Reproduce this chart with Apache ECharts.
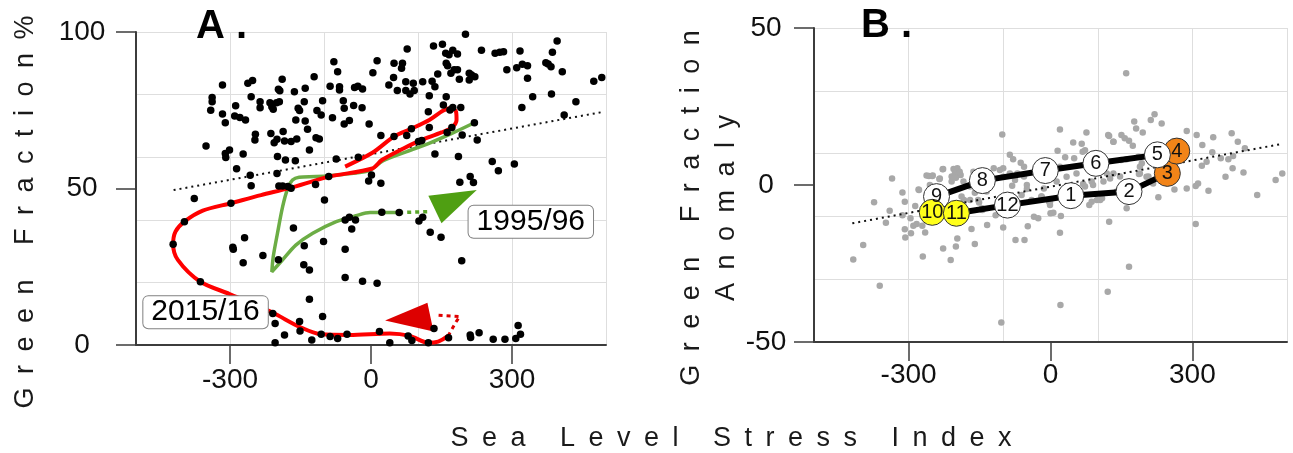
<!DOCTYPE html>
<html lang="en">
<head>
  <meta charset="utf-8">
  <script type="text/javascript" src="https://cdn.jsdelivr.net/npm/echarts@6.0.0/dist/echarts.min.js"></script>
</head>
<body style="margin: 0; background: #fff">
  <div id="main" style="width: 1293px; height: 453px"></div>

  <script type="text/javascript">
    // ---- panel A: monthly points, sea level stress index vs green fraction %
    var aPoints = [
      [-79,90.5],[-71,87.3],[4,87],[-316,83.1],[-262,83.6],[-252,84.5],[-189,84.9],[-197,81.7],[-194,81.2],[-163,80.9],
      [-140,82],[-121,85.7],[-87,82.7],[-67,82.5],[-67,81.5],[-35,82.3],[-28,82.7],[-18,81.8],
      [-338,79.1],[-338,77.7],[-341,75],[-288,76.4],[-255,79.3],[-236,77.7],[-236,75.8],[-215,77.4],[-211,76.1],[-208,75.3],
      [-201,77.4],[-195,77.7],[-155,75.6],[-152,74.9],[-142,77.7],[-103,78],[-115,74.9],[-106,73.5],[-59,78],[-57,75.6],
      [-37,76.5],[-19,75.8],[-316,73.8],[-310,71],[-290,73.2],[-279,72.7],[-267,71.9],[-160,71.9],[-140,71.6],[-82,72.6],
      [-57,70.6],[-46,71.7],[-4,70.6],[-246,67.3],[-247,65.5],[-213,67.6],[-206,64.6],[-200,65.7],[-187,68.2],[-184,65.2],
      [-170,65],[-158,65.8],[-135,68.9],[-117,66.2],[-110,65.8],[-131,62.3],[-351,63.6],[-310,61.2],[-301,62.3],[-309,59.9],
      [-272,61],[-286,56.3],[-257,54.2],[-255,50.9],[-199,60.2],[-182,59.1],[-161,58.9],[-200,54.8],[-196,50.8],[-188,50.8],
      [-177,50.6],[-170,50.1],[-118,51.3],[-90,53.8],[-74,59.4],[-27,60],[-5,52.4],[-99,46.3],[-376,46.8],[-298,45.3],
      [-397,39.4],[-421,32.2],[-363,20.2],[-294,31.2],[-293,30.6],[-269,34.3],[-272,26.3],[-230,28.6],[-197,27.2],[-165,37.4],
      [-143,25.6],[-131,24],[-142,31.7],[-101,33.1],[-55,30.6],[-55,39.9],[-46,40.8],[-33,39.9],[-41,37.1],[-55,21.6],
      [-18,20.4],[-131,14.6],[-103,9.1],[-209,10.1],[-204,6.9],[-152,7.5],[-151,4.5],[-184,3.2],[-204,0.7],[-126,1.6],
      [-106,3.4],[-87,2.7],[-71,2.1],[-51,3.4],
      [201,99.3],[133,95.5],[152,96.1],[174,94.2],[159,93.2],[166,92.7],[184,93],[77,94.6],[13,90.8],[49,90],
      [67,90],[65,88.4],[48,85.5],[38,83.1],[56,81.3],[74,84.1],[74,81.3],[83,80.2],[90,83.6],[92,81.3],
      [110,84.1],[130,84.3],[136,82.5],[142,86.6],[124,79.6],[160,90],[163,89.2],[170,86.8],[177,87.9],[184,87.9],
      [188,84.9],[209,86.8],[214,86.3],[209,84.7],[221,85.7],[235,94.2],[264,93.2],[274,93.5],[282,93.7],[289,87.9],
      [317,93.9],[310,88.6],[322,89.7],[333,89.2],[333,85.2],[372,90.2],[377,89.8],[386,93.5],[383,88.9],[396,97.1],
      [407,87.3],[321,75.9],[344,79.3],[384,80.2],[411,73.5],[436,77.7],[474,84.3],[491,85.5],[154,76.7],[160,79.3],
      [174,75.9],[168,75.1],[191,75.9],[122,74.5],[124,69.5],[86,69.1],[49,66.6],[21,66.9],[76,66.9],[101,65],
      [108,65.3],[136,61],[162,67.9],[172,69.5],[194,67.1],[220,71],[226,65.5],[186,60.2],[258,58.6],[271,55.7],
      [305,57.8],[1,54.3],[21,51.7],[189,52],[211,53.8],[218,51.9],[23,42.4],[60,42.3],[102,39.6],[110,40.8],
      [126,36],[149,34.4],[193,26.9],[13,19.7],[18,4.3],[40,0.7],[79,2.9],[87,1.4],[122,0.7],[134,5.3],
      [165,2.3],[211,3.2],[212,2.4],[230,3.9],[260,1.8],[285,1.8],[308,2.1],[313,6.2],[318,3.4]
    ];
    var aTrend = [[-420, 49.5], [495, 74.5]];

    // 2015/16 trajectory
    var redPath = [
      [-55,57],[3,61.4],[49,66.6],[86,69.1],[124,71.9],[154,74.9],[172,75.6],[181,74.5],[182,71.9],[172,69.5],
      [150,67.9],[104,65.3],[69,62.8],[23,59.1],[3,56.4],[-89,53.8],[-174,50.1],[-234,47.9],[-298,45.3],[-358,42.9],
      [-397,39.4],[-416,36.2],[-421,32.2],[-411,27.2],[-363,20.2],[-301,16.3],[-209,10.3],[-152,5.8],[-106,3.4],[-46,3.2],
      [40,3.7],[83,2.9],[122,0.7],[143,1.1],[164,2.9]
    ];
    var redTail = [[164,2.9],[181,7.4],[189,9.1],[136,9.6]];
    var redArrow = [[30,7.8],[120,13.5],[133,4.3]];
    var redLabel = [[-352, 10.5, '2015/16']];

    // 1995/96 trajectory
    var greenPath = [
      [220,71],[172,67.6],[126,64.6],[76,61.8],[26,58.9],[-4,55.7],[-60,54.5],[-117,53.8],[-153,53.6],[-167,52.7],
      [-177,50.1],[-188,44.2],[-199,35.7],[-208,28.2],[-211,23.4],[-188,27.2],[-160,31.9],[-124,35.7],[-74,39.4],[-32,41.3],
      [-2,42.3],[60,42.3]
    ];
    var greenTail = [[60,42.3],[122,42.6]];
    var greenArrow = [[122,47.7],[225,49.5],[150,38.9]];
    var greenLabel = [[340, 39.4, '1995/96']];

    // ---- panel B: anomalies
    var bPoints = [
      [-102,16.1],[-86,9.6],[-79,8.2],[-63,7.1],[-56,5.8],[-227,5.1],[-197,5.3],[-192,4.2],[-190,3.2],[-257,2.9],
      [-250,2.9],[-234,2.1],[-209,2.7],[-335,2.1],[-313,-2.4],[-278,-1.6],[-255,0],[-163,4.2],[-120,5.3],[-100,5.3],
      [-70,3.7],[-56,2.7],[-81,-0.2],[-50,-1.3],[-61,-3.2],[-14,-1.1],[-19,-3.7],[-3,-5.3],[-373,-5.5],[-308,-5.3],
      [-340,-8.2],[-313,-9.6],[-348,-12],[-296,-10.6],[-290,-13],[-283,-12.4],[-308,-14.1],[-307,-16.7],[-295,-15.4],[-271,-13],
      [-265,-15.1],[-197,-17],[-200,-19.6],[-227,-20.2],[-160,-18.8],[-167,-14],[-134,-12.7],[-100,-13.5],[-74,-17.5],[-55,-17.5],
      [-48,-13.1],[-116,-9.6],[-144,-8],[-151,-5.6],[-183,-4.8],[-35,-10.1],[-26,-10.6],[0,-9],[-396,-19.1],[-417,-23.7],
      [-270,-22.8],[-211,-23.9],[-361,-32.1],[-104,-43.8],[-235,1.9],[-205,5.1],[-202,3.7],[-193,3.9],[-200,2.3],[-209,1.1],
      [-184,1.1],[-170,-0.5],[-160,-2.5],[-188,-3.7],[-170,-4.8],[-153,-4.8],[-135,-2.1],[-145,-7.4],[-265,-9.6],[-286,-6.7],
      [-262,3],[-249,3],[-228,5],[-279,-1.4],
      [160,35.6],[220,22.5],[212,20.7],[235,19.6],[177,20.2],[181,18],[195,16.7],[20,17.7],[76,16.7],[124,15.6],
      [133,13.8],[150,15.9],[157,14.9],[166,14.1],[174,12.5],[48,13.5],[66,13.1],[15,10.9],[73,11.1],[105,9],
      [50,8.5],[31,8.8],[149,8],[161,8.2],[193,6.9],[186,9],[288,17.2],[309,15.9],[344,15.2],[383,16.5],
      [396,13.8],[321,12.7],[342,10.4],[330,7.4],[320,6.1],[360,8.5],[376,8.2],[386,9.2],[385,5.3],[408,4],
      [370,2.6],[312,0.5],[307,-0.3],[288,-1.1],[262,-1.4],[334,-1.8],[437,-3.2],[476,1.6],[490,3.7],[307,-12.4],
      [124,-11.7],[161,-7.4],[166,-26],[121,-34],[21,-38.2],[20,-15.2],[22,-9.9],[6,-8.8],[-1,-6.4],[87,-5.3],
      [82,-6.4],[98,-4.8],[109,-4.2],[69,0.3],[90,0],[112,1.1],[126,2.1],[147,2.7],[187,3.5],[207,2.7],
      [228,-3.9],[217,0.5],[189,5.8],[411,11.7],[68,10.6],[122,15.9],[133,13.8],
      [-107,4.8],[-100,2.6],[-86,3.7],[-75,1.6],[-50,0],[-40,-4.8],[-19,-3.7],[-1,-5.3],[13,1.1],[20,5.8],
      [34,2.6],[55,3.7],[73,-0.5],[87,1.1],[105,-4.8],[119,3.7],[133,3.7],[140,-2.1],[175,-2.6],[189,3.7],[203,2.6]
    ];
    var bTrend = [[-419, -12.2], [490, 13.1]];

    var months = ['1','2','3','4','5','6','7','8','9','10','11','12'];
    var monthX = [43, 166, 247, 267, 226, 96, -11, -144, -241, -250, -199, -91];
    var monthY = [-3.4, -2.1, 3.7, 10.8, 9.6, 6.9, 4.6, 1.4, -3.7, -8.7, -9.0, -6.4];

    var xTicks = [-300, 0, 300];

    // ---------------------------------------------------------------
    var font = 'Liberation Sans, Arial, Helvetica, sans-serif';
    var sp = '\u2002';
    function spaced(s) {
      return s.split(' ').map(function (w) { return w.split('').join(sp); }).join(sp + ' ' + sp);
    }

    var warm = ['3', '4'], cool = ['10', '11'];
    var monthData = months.map(function (m, i) {
      var c = '#ffffff';
      if (warm.indexOf(m) >= 0) c = '#f28418';
      if (cool.indexOf(m) >= 0) c = '#ffff1a';
      return {value: [monthX[i], monthY[i]], name: m, itemStyle: {color: c}};
    });
    var loop = months.map(function (m, i) { return [monthX[i], monthY[i]]; });
    loop.push(loop[0]);

    function flat(tri) {
      var out = [];
      tri.forEach(function (p) { out.push(p[0], p[1]); });
      return out;
    }
    function triangle(params, api) {
      var pts = [];
      for (var i = 0; i < 3; i++) pts.push(api.coord([api.value(i * 2), api.value(i * 2 + 1)]));
      return {type: 'polygon', shape: {points: pts}, style: {fill: api.visual('color')}};
    }
    // boxed year label, centred on a data point
    function boxText(list) {
      return function (params, api) {
        var p = api.coord([api.value(0), api.value(1)]);
        return {
          type: 'text', x: p[0], y: p[1],
          style: {
            text: list[params.dataIndex][2], fontSize: 30, fontFamily: font, fill: '#000',
            align: 'center', verticalAlign: 'middle',
            backgroundColor: '#fff', borderColor: '#808080', borderWidth: 1, borderRadius: 5, padding: [1, 8]
          }
        };
      };
    }

    var axisDark = {color: '#3c3c3c', width: 2};
    function labelAxisX(grid) {
      return {
        gridIndex: grid, type: 'value', min: -500, max: 500, position: 'bottom',
        axisLine: {show: true, onZero: false, lineStyle: axisDark},
        axisTick: {show: true, customValues: xTicks, length: 19, lineStyle: {color: '#3c3c3c', width: 1.5}},
        axisLabel: {customValues: xTicks, fontSize: 28, color: '#111', fontFamily: font, margin: grid ? 19 : 21},
        splitLine: {show: false}
      };
    }
    function gridAxis(grid, min, max, step, pos) {
      return {
        gridIndex: grid, type: 'value', min: min, max: max, interval: step, position: pos,
        axisLine: {show: false}, axisTick: {show: false}, axisLabel: {show: false},
        splitLine: {show: true, lineStyle: {color: '#dedede', width: 1}}
      };
    }
    function labelAxisY(grid, min, max, margin) {
      return {
        gridIndex: grid, type: 'value', min: min, max: max, interval: 50, position: 'left',
        axisLine: {show: true, onZero: false, lineStyle: axisDark},
        axisTick: {show: true, length: 20, lineStyle: {color: '#3c3c3c', width: 1.5}},
        axisLabel: {fontSize: 28, color: '#111', fontFamily: font, align: 'center', margin: margin},
        splitLine: {show: false}
      };
    }

    var chart = echarts.init(document.getElementById('main'));
    var option = {
      animation: false,
      textStyle: {fontFamily: font},
      grid: [
        {left: 136, top: 32, width: 470, height: 313},
        {left: 814, top: 28, width: 473, height: 314}
      ],
      xAxis: [
        labelAxisX(0), gridAxis(0, -500, 500, 200, 'top'),
        labelAxisX(1), gridAxis(1, -500, 500, 200, 'top')
      ],
      yAxis: [
        labelAxisY(0, 0, 100, 54), gridAxis(0, 0, 100, 20, 'right'),
        labelAxisY(1, -50, 50, 48), gridAxis(1, -50, 50, 20, 'right')
      ],
      graphic: [
        {type: 'text', x: 196, y: 7, z: 100, style: {text: 'A .', fontSize: 40, fontWeight: 'bold', fontFamily: font, fill: '#000', verticalAlign: 'top'}},
        {type: 'text', x: 861, y: 6, z: 100, style: {text: 'B .', fontSize: 40, fontWeight: 'bold', fontFamily: font, fill: '#000', verticalAlign: 'top'}},
        {type: 'text', x: 26, y: 212, rotation: Math.PI / 2,
          style: {text: spaced('Green Fraction%'), fontSize: 27, fontFamily: font, fill: '#1a1a1a', align: 'center', verticalAlign: 'middle'}},
        {type: 'text', x: 709, y: 208, rotation: Math.PI / 2,
          style: {text: spaced('Green Fraction') + '\n' + spaced('Anomaly'), fontSize: 27, lineHeight: 35, fontFamily: font, fill: '#1a1a1a', align: 'center', verticalAlign: 'middle'}},
        {type: 'text', x: 731, y: 439,
          style: {text: spaced('Sea Level Stress Index'), fontSize: 27, fontFamily: font, fill: '#1a1a1a', align: 'center', verticalAlign: 'middle'}}
      ],
      series: [
        // panel A
        {type: 'line', xAxisIndex: 0, yAxisIndex: 0, data: aTrend, symbol: 'none', z: 2,
          lineStyle: {color: '#111', width: 2, type: [2, 4]}},
        {type: 'line', xAxisIndex: 0, yAxisIndex: 0, data: greenPath, symbol: 'none', smooth: 0.3, z: 3,
          lineStyle: {color: '#6cad45', width: 3.5}},
        {type: 'line', xAxisIndex: 0, yAxisIndex: 0, data: greenTail, symbol: 'none', z: 3,
          lineStyle: {color: '#5aa52a', width: 3.5, type: [4, 4]}},
        {type: 'custom', xAxisIndex: 0, yAxisIndex: 0, data: [flat(greenArrow)], renderItem: triangle, z: 3,
          itemStyle: {color: '#4f9f12'}},
        {type: 'line', xAxisIndex: 0, yAxisIndex: 0, data: redPath, symbol: 'none', smooth: 0.3, z: 4,
          lineStyle: {color: '#ff0000', width: 4}},
        {type: 'line', xAxisIndex: 0, yAxisIndex: 0, data: redTail, symbol: 'none', z: 4,
          lineStyle: {color: '#e00000', width: 3, type: [4, 4]}},
        {type: 'custom', xAxisIndex: 0, yAxisIndex: 0, data: [flat(redArrow)], renderItem: triangle, z: 4,
          itemStyle: {color: '#dd0000'}},
        {type: 'scatter', xAxisIndex: 0, yAxisIndex: 0, data: aPoints, symbolSize: 7.5, z: 5,
          itemStyle: {color: '#000', opacity: 1}},
        {type: 'custom', xAxisIndex: 0, yAxisIndex: 0, data: redLabel.map(function (d) { return [d[0], d[1]]; }),
          renderItem: boxText(redLabel), z: 6},
        {type: 'custom', xAxisIndex: 0, yAxisIndex: 0, data: greenLabel.map(function (d) { return [d[0], d[1]]; }),
          renderItem: boxText(greenLabel), z: 6},
        // panel B
        {type: 'scatter', xAxisIndex: 2, yAxisIndex: 2, data: bPoints, symbolSize: 6.5, z: 2,
          itemStyle: {color: '#a8a8a8', opacity: 1}},
        {type: 'line', xAxisIndex: 2, yAxisIndex: 2, data: bTrend, symbol: 'none', z: 3,
          lineStyle: {color: '#111', width: 2, type: [2, 4]}},
        {type: 'line', xAxisIndex: 2, yAxisIndex: 2, data: loop, symbol: 'none', z: 4,
          lineStyle: {color: '#000', width: 6}},
        {type: 'scatter', xAxisIndex: 2, yAxisIndex: 2, data: monthData, symbolSize: 26, z: 5,
          itemStyle: {borderColor: '#333', borderWidth: 1, opacity: 1},
          label: {show: true, position: 'inside', formatter: '{b}', fontSize: 20, color: '#111', fontFamily: font}}
      ]
    };
    chart.setOption(option);
  </script>
</body>
</html>
